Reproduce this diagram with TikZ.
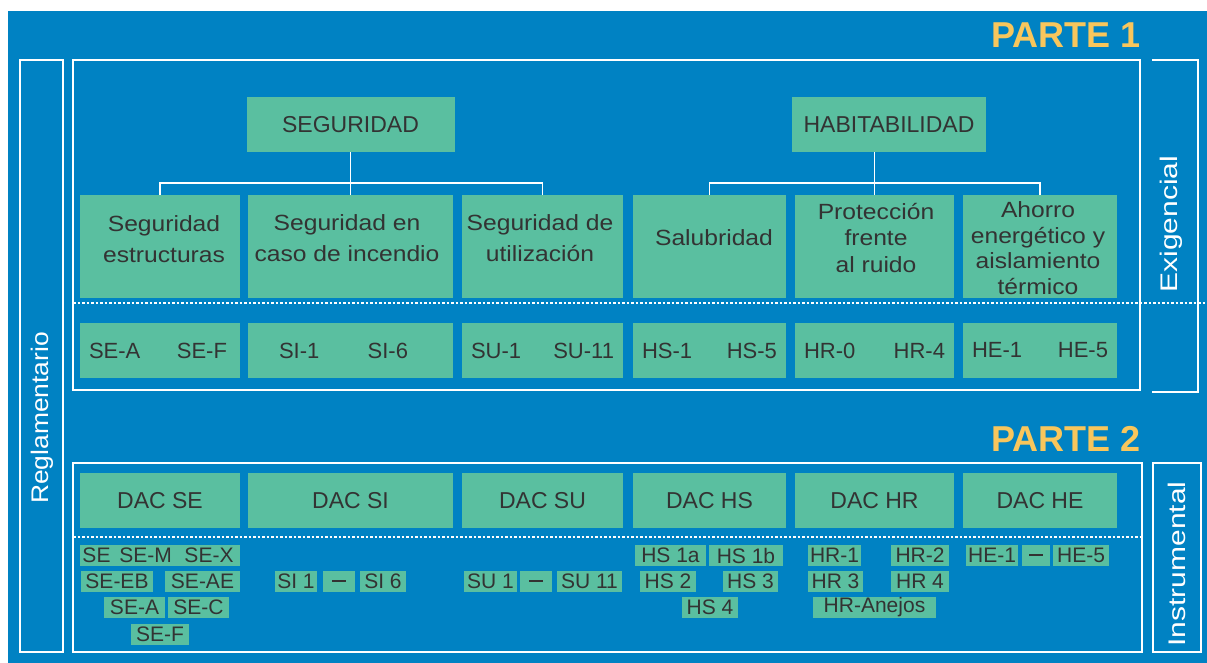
\documentclass[tikz,border=0pt]{standalone}
\usepackage{fontspec}
\setmainfont{Liberation Sans}
\newfontfamily\widefont[FakeStretch=1.25]{Liberation Sans}
\newfontfamily\midfont[FakeStretch=1.1]{Liberation Sans}
\newfontfamily\labfont[FakeStretch=1.12]{Liberation Sans}
\newcommand{\bardash}{\vphantom{S}\rule[6.5pt]{14pt}{2pt}}
\definecolor{bgblue}{HTML}{0082C3}
\definecolor{boxgreen}{HTML}{5ABFA0}
\definecolor{txt}{HTML}{333333}
\definecolor{parte}{HTML}{F8C65C}
\begin{document}
\begin{tikzpicture}[x=1pt,y=-1pt,
  frame/.style={draw=white, line width=1.6pt},
  conn/.style={draw=white, line width=1.6pt},
  sepline/.style={draw=white, line width=1.6pt, dash pattern=on 2.5pt off 2pt},
  cell/.style n args={2}{fill=boxgreen, inner sep=0pt, minimum width=#1pt, minimum height=#2pt, text=txt, align=center},
  head/.style={cell={#1}{55}, font=\fontsize{23}{26}\selectfont},
  big/.style={cell={#1}{103}},
  lbl/.style={text=txt, align=center, inner sep=0pt, font=\labfont\fontsize{22}{31}\selectfont},
  code/.style={fill=boxgreen, inner sep=0pt, inner xsep=9pt, text width=#1pt-18pt, minimum height=55pt, text=txt, align=center, font=\fontsize{22}{26}\selectfont},
  sub/.style={cell={#1}{21}, font=\fontsize{21}{24}\selectfont},
  side/.style={rotate=90, text=white, inner sep=0pt, font=\widefont\fontsize{24}{28}\selectfont},
  parte/.style={text=parte, inner sep=0pt, anchor=east, font=\bfseries\fontsize{36}{40}\selectfont}
]
\useasboundingbox (0,0) rectangle (1207,663);
\fill[white] (0,0) rectangle (1207,663);
\fill[bgblue] (8,11) rectangle (1207,663);

% titles
\node[parte] (p1) at (1141,35) {PARTE 1};
\node[parte] (p2) at (1141,439) {PARTE 2};

% frames
\draw[frame] (20,60) rectangle (63,652);
\draw[frame] (73,60) rectangle (1140,390);
\draw[frame] (1152,60) -- (1198,60) -- (1198,392) -- (1152,392);
\draw[frame] (73,463) rectangle (1142,652);
\draw[frame] (1153,463) rectangle (1201,652);
\draw[sepline] (73,303) -- (1207,303);
\draw[sepline] (73,537) -- (1142,537);

\node[side, font=\midfont\fontsize{24}{28}\selectfont] (regl) at (42,418) {Reglamentario};
\node[side] (exig) at (1171,224) {Exigencial};
\node[side] (instr) at (1177,564) {Instrumental};

% headers
\node[head=208] (seg) at (350.5,124.5) {SEGURIDAD};
\node[head=194] (hab) at (889,124.5) {HABITABILIDAD};

% second row
\node[big=160] (c1) at (160,246.5) {};
\node[big=205] (c2) at (350.5,246.5) {};
\node[big=161] (c3) at (542.5,246.5) {};
\node[big=153] (c4) at (709.5,246.5) {};
\node[big=159] (c5) at (874.5,246.5) {};
\node[big=154] (c6) at (1040,246.5) {};
\node[lbl] (t1) at (164,239) {Seguridad\\estructuras};
\node[lbl] (t2) at (347,238) {Seguridad en\\caso de incendio};
\node[lbl] (t3) at (540,238) {Seguridad de\\utilización};
\node[lbl] (t4) at (714,238) {Salubridad};
\node[lbl, font=\labfont\fontsize{22}{26.5}\selectfont] (t5) at (876,238) {Protección\\frente\\al ruido};
\node[lbl, font=\labfont\fontsize{22}{25.5}\selectfont] (t6) at (1038,248) {Ahorro\\energético y\\aislamiento\\térmico};

% connectors
\coordinate (busS) at (350.5,183);
\coordinate (busH) at (874.5,183);
\draw[conn] (seg.south) -- (c2.north);
\draw[conn] (c1.north) |- (busS) -| (c3.north);
\draw[conn] (hab.south -| c5.north) -- (c5.north);
\draw[conn] (c4.north) |- (busH) -| (c6.north);

% code row
\node[code=160] (k1) at (160,350.5) {SE-A\hfill SE-F\hspace*{4pt}};
\node[code=205] (k2) at (350.5,350.5) {\hspace*{22pt}SI-1\hfill SI-6\hspace*{36pt}};
\node[code=161] (k3) at (542.5,350.5) {SU-1\hfill SU-11};
\node[code=153] (k4) at (709.5,350.5) {HS-1\hfill HS-5};
\node[code=159] (k5) at (874.5,350.5) {HR-0\hfill HR-4};
\node[code=154] (k6) at (1040,350.5) {HE-1\hfill HE-5};

% parte 2 DAC row
\node[head=160] (d1) at (160,500.5) {DAC SE};
\node[head=205] (d2) at (350.5,500.5) {DAC SI};
\node[head=161] (d3) at (542.5,500.5) {DAC SU};
\node[head=153] (d4) at (709.5,500.5) {DAC HS};
\node[head=159] (d5) at (874.5,500.5) {DAC HR};
\node[head=154] (d6) at (1040,500.5) {DAC HE};

% sub items SE
\node[sub=33] (se0) at (96.5,555.5) {SE};
\node[sub=65] (seM) at (145.5,555.5) {SE-M};
\node[sub=62] (seX) at (209,555.5) {SE-X};
\node[sub=72] (seEB) at (117,581.5) {SE-EB};
\node[sub=75] (seAE) at (202.5,581.5) {SE-AE};
\node[sub=61] (seA) at (134.5,607.5) {SE-A};
\node[sub=61] (seC) at (198.5,607.5) {SE-C};
\node[sub=58] (seF) at (160,634) {SE-F};
% SI
\node[sub=42] (si1) at (296,581.5) {SI 1};
\node[sub=32] (sid) at (339,581.5) {\bardash};
\node[sub=46] (si6) at (383,581.5) {SI 6};
% SU
\node[sub=53] (su1) at (490.5,581.5) {SU 1};
\node[sub=32] (sud) at (536,581.5) {\bardash};
\node[sub=65] (su11) at (589.5,581.5) {SU 11};
% HS
\node[sub=71] (hs1a) at (670.5,555.5) {HS 1a};
\node[sub=74] (hs1b) at (746,555.5) {HS 1b};
\node[sub=56] (hs2) at (668,581.5) {HS 2};
\node[sub=55] (hs3) at (750.5,581.5) {HS 3};
\node[sub=56] (hs4) at (710,607.5) {HS 4};
% HR
\node[sub=53] (hr1) at (834.5,555.5) {HR-1};
\node[sub=58] (hr2) at (920,555.5) {HR-2};
\node[sub=55] (hr3) at (835.5,581.5) {HR 3};
\node[sub=58] (hr4) at (920,581.5) {HR 4};
\node[sub=123] (hran) at (874.5,607.5) {HR-Anejos};
% HE
\node[sub=52] (he1) at (992,555.5) {HE-1};
\node[sub=28] (hed) at (1036,555.5) {\bardash};
\node[sub=56] (he5) at (1081,555.5) {HE-5};
\end{tikzpicture}
\end{document}
